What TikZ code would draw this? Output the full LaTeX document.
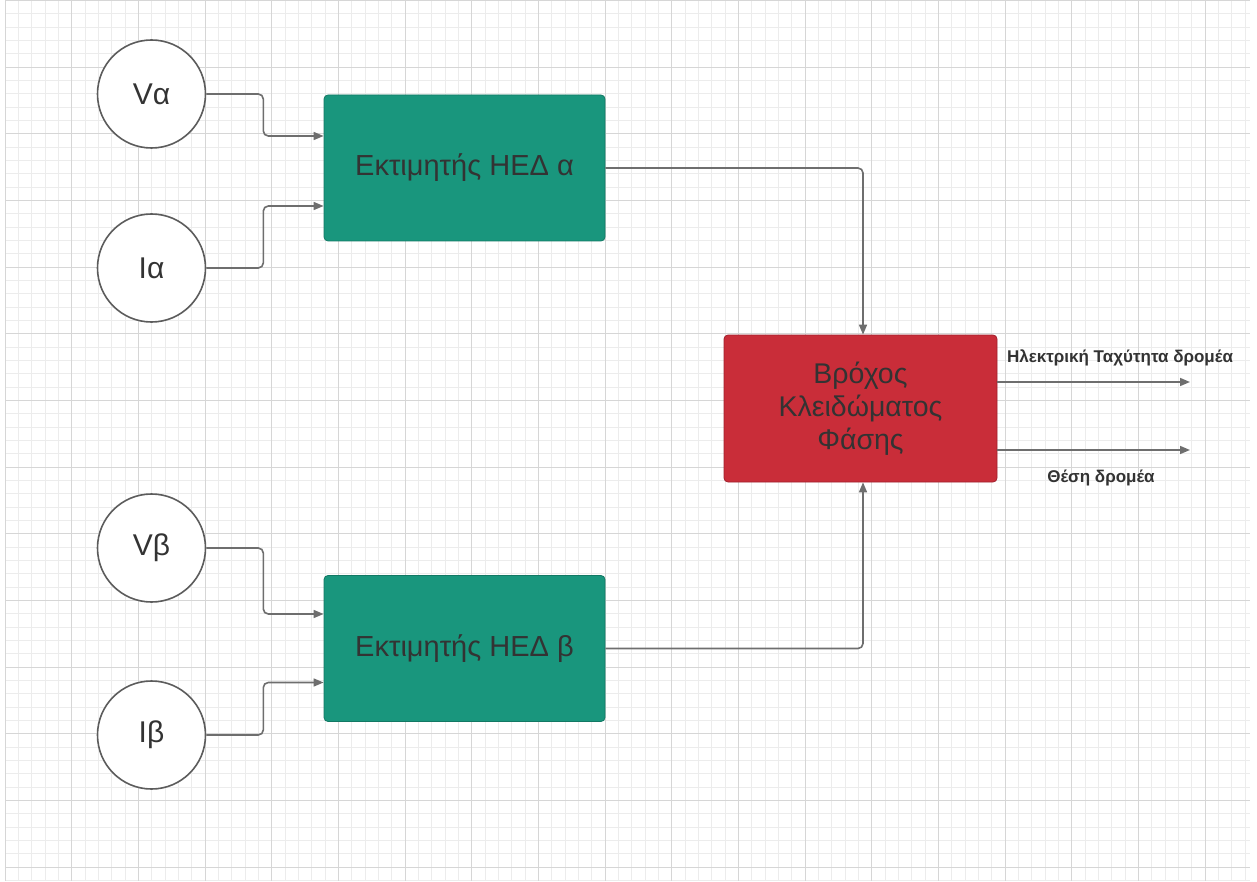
\documentclass[tikz,border=0pt]{standalone}
\usepackage{fontspec}
\setmainfont{Liberation Sans}
\usetikzlibrary{arrows.meta,calc}

\definecolor{gridminor}{RGB}{236,236,236}
\definecolor{gridmajor}{RGB}{214,214,214}
\definecolor{linkgray}{RGB}{110,110,110}
\definecolor{ringgray}{RGB}{92,92,92}
\definecolor{estgreen}{RGB}{25,150,125}
\definecolor{estgreenedge}{RGB}{18,120,100}
\definecolor{pllred}{RGB}{201,45,57}
\definecolor{pllrededge}{RGB}{160,32,44}
\definecolor{inktext}{RGB}{51,51,51}

\tikzset{
  signal/.style={circle, draw=ringgray, line width=1.6pt, fill=white,
    minimum size=108pt, inner sep=0pt, text=inktext,
    font=\fontsize{30}{34}\selectfont},
  estimator/.style={rectangle, rounded corners=4pt, fill=estgreen,
    draw=estgreenedge, line width=0.8pt, minimum width=281pt,
    minimum height=146pt, text=inktext, font=\fontsize{29}{34}\selectfont},
  pllbox/.style={rectangle, rounded corners=4pt, fill=pllred,
    draw=pllrededge, line width=0.8pt, minimum width=273pt,
    minimum height=147pt, text=inktext, align=center,
    font=\fontsize{28.5}{33}\selectfont},
  link/.style={draw=linkgray, line width=1.6pt, rounded corners=5pt,
    -{Triangle[length=10pt,width=8pt]}},
  outlabel/.style={text=inktext, font=\bfseries\fontsize{17}{20}\selectfont}
}

\begin{document}
\begin{tikzpicture}[x=1pt, y=1pt, yscale=-1]
  \useasboundingbox (0,0) rectangle (1257,882);
  \fill[white] (0,0) rectangle (1257,882);

  % background grid: minor lines, then every fifth line darker
  \foreach \i in {0,...,93} {
    \draw[gridminor, line width=1pt] ({5.33+13.333*\i},0.6) -- ({5.33+13.333*\i},881);
  }
  \foreach \j in {0,...,66} {
    \draw[gridminor, line width=1pt] (5.33,{0.6+13.333*\j}) -- (1250,{0.6+13.333*\j});
  }
  \foreach \i in {0,5,...,90} {
    \draw[gridmajor, line width=1pt] ({5.33+13.333*\i},0.6) -- ({5.33+13.333*\i},881);
  }
  \foreach \j in {0,5,...,65} {
    \draw[gridmajor, line width=1pt] (5.33,{0.6+13.333*\j}) -- (1250,{0.6+13.333*\j});
  }

  % input signals
  \node[signal] (va) at (151.5,94) {Vα};
  \node[signal] (ia) at (151.5,268) {Iα};
  \node[signal] (vb) at (151.5,548) {Vβ};
  \node[signal] (ib) at (151.5,735) {Iβ};

  % back-EMF estimators
  \node[estimator] (esta) at (464.5,168) {Εκτιμητής ΗΕΔ α};
  \node[estimator] (estb) at (464.5,648.5) {Εκτιμητής ΗΕΔ β};

  % phase-locked loop
  \node[pllbox] (pll) at (860.5,408.5) {Βρόχος\\Κλειδώματος\\Φάσης};

  % signals into the estimators
  \draw[link] (va.east) -- ++(57,0) |- ($(esta.west)+(0,-32)$);
  \draw[link] (ia.east) -- ++(57,0) |- ($(esta.west)+(0,38)$);
  \draw[link] (vb.east) -- ++(57,0) |- ($(estb.west)+(0,-34.5)$);
  \draw[link] (ib.east) -- ++(57,0) |- ($(estb.west)+(0,34)$);

  % estimators into the PLL
  \draw[link] (esta.east) -| ($(pll.north)+(2.5,0)$);
  \draw[link] (estb.east) -| ($(pll.south)+(2.5,0)$);

  % PLL outputs
  \coordinate (speedout) at (1190,382);
  \coordinate (posout) at (1190,450);
  \draw[link] (pll.east |- speedout) -- (speedout);
  \draw[link] (pll.east |- posout) -- (posout);
  \node[outlabel] (speedlbl) at (1120,358) {Ηλεκτρική Ταχύτητα δρομέα};
  \node[outlabel] (poslbl) at (1101,478) {Θέση δρομέα};
\end{tikzpicture}
\end{document}
